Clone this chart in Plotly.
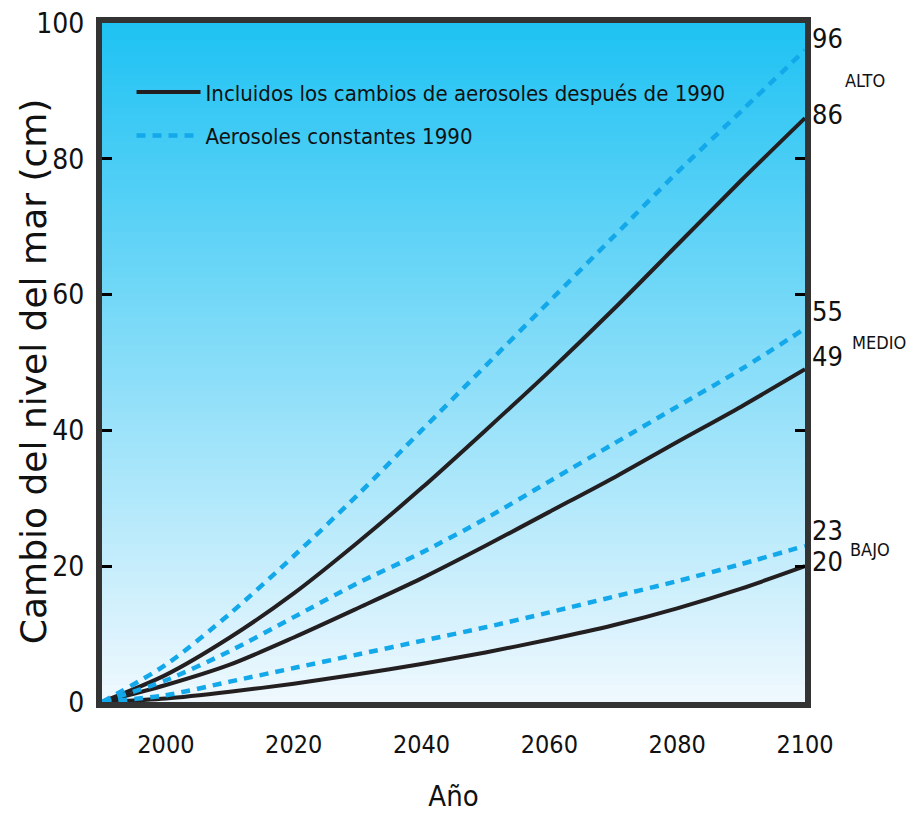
import plotly.graph_objects as go

years = [1990, 2000, 2010, 2020, 2030, 2040, 2050, 2060, 2070, 2080, 2090, 2100]

alto_aerosol = [0, 4, 9.5, 16, 23.5, 31.5, 40, 48.7, 57.8, 67.3, 76.8, 86]
alto_const = [0, 5.5, 13, 21.5, 30.5, 40, 49.5, 59, 68.5, 78, 87, 96]
medio_aerosol = [0, 2.5, 5.5, 9.5, 13.8, 18.2, 23, 28, 33, 38.3, 43.5, 49]
medio_const = [0, 3.2, 7.5, 12.5, 17.5, 22, 27, 32.5, 38, 43.5, 49, 55]
bajo_aerosol = [0, 0.5, 1.5, 2.7, 4.1, 5.6, 7.3, 9.2, 11.3, 13.8, 16.7, 20]
bajo_const = [0, 1, 3, 5, 7, 9, 11, 13.2, 15.5, 17.8, 20.3, 23]

end_labels = ["96", "86", "55", "49", "23", "20"]
end_values = [96, 86, 55, 49, 23, 20]
scenario_names = ["ALTO", "MEDIO", "BAJO"]
scenario_y = [91.5, 53, 22.5]

x_ticks = [2000, 2020, 2040, 2060, 2080, 2100]
y_ticks = [0, 20, 40, 60, 80, 100]

legend_solid = "Incluidos los cambios de aerosoles después de 1990"
legend_dash = "Aerosoles constantes 1990"
x_title = "Año"
y_title = "Cambio del nivel del mar (cm)"

SOLID = "#231f20"
DASH = "#13a8ea"
COND = "DejaVu Sans Condensed, Liberation Sans Narrow, sans-serif"

fig = go.Figure()

solids = [alto_aerosol, medio_aerosol, bajo_aerosol]
dashes = [alto_const, medio_const, bajo_const]
for i, s in enumerate(solids):
    fig.add_trace(go.Scatter(x=years, y=s, mode="lines", name=legend_solid,
                             showlegend=(i == 0), legendgroup="a", legendrank=1,
                             line=dict(color=SOLID, width=4, shape="spline", smoothing=0.8)))
for i, d in enumerate(dashes):
    fig.add_trace(go.Scatter(x=years, y=d, mode="lines", name=legend_dash,
                             showlegend=(i == 0), legendgroup="b", legendrank=2,
                             line=dict(color=DASH, width=4.5, dash="9px,7px", shape="spline", smoothing=0.8)))

# gradient background
shapes = []
n = 120
top = (30, 194, 243)
bot = (240, 248, 254)
for k in range(n):
    f0 = k / n
    f1 = (k + 1) / n
    t = (k + 0.5) / n
    c = tuple(int(round(bot[j] + (top[j] - bot[j]) * t)) for j in range(3))
    shapes.append(dict(type="rect", xref="x domain", yref="y domain",
                       x0=0, x1=1, y0=f0, y1=f1 + 0.002, layer="below",
                       line=dict(width=0), fillcolor="rgb(%d,%d,%d)" % c))

annotations = []
shifts = [12, 4, 17, 13, 15, 5]
for lab, v, sh in zip(end_labels, end_values, shifts):
    annotations.append(dict(x=2100, y=v, xref="x", yref="y", text=lab,
                            showarrow=False, xanchor="left", yanchor="middle",
                            xshift=5, yshift=sh,
                            font=dict(family=COND, size=27, color="#111")))
for name, yv, xs in zip(scenario_names, scenario_y, [38, 45, 43]):
    annotations.append(dict(x=2100, y=yv, xref="x", yref="y", text=name,
                            showarrow=False, xanchor="left", yanchor="middle",
                            xshift=xs,
                            font=dict(family=COND, size=18, color="#111")))
annotations.append(dict(x=-0.097, y=0.487, xref="paper", yref="paper", text=y_title,
                        textangle=-90, showarrow=False, xanchor="center", yanchor="middle",
                        font=dict(family="DejaVu Sans, sans-serif", size=36, color="#111")))

fig.update_layout(
    width=916, height=818,
    margin=dict(l=94, r=119, t=15, b=124),
    paper_bgcolor="white",
    plot_bgcolor="rgba(0,0,0,0)",
    shapes=shapes,
    annotations=annotations,
    legend=dict(x=0.042, y=0.929, xanchor="left", yanchor="top",
                bgcolor="rgba(0,0,0,0)", borderwidth=0,
                font=dict(family=COND, size=22, color="#111"),
                tracegroupgap=12, itemwidth=64),
    xaxis=dict(range=[1990, 2100], tickvals=x_ticks, ticks="",
               showgrid=False, zeroline=False, automargin=False,
               showline=True, mirror=True, linewidth=6, linecolor="#333",
               tickfont=dict(family=COND, size=25, color="#111"),
               ticklabelstandoff=15, ticklabeloverflow="allow",
               title=dict(text=x_title, font=dict(family=COND, size=29, color="#111"), standoff=30)),
    yaxis=dict(range=[0, 100], tickvals=y_ticks,
               ticks="inside", ticklen=10, tickwidth=3, tickcolor="#000",
               showgrid=False, zeroline=False, automargin=False,
               showline=True, mirror="allticks", linewidth=6, linecolor="#333",
               tickfont=dict(family=COND, size=28, color="#111"),
               ticklabelstandoff=6, ticklabeloverflow="allow"),
)

fig.write_html("out.html")
